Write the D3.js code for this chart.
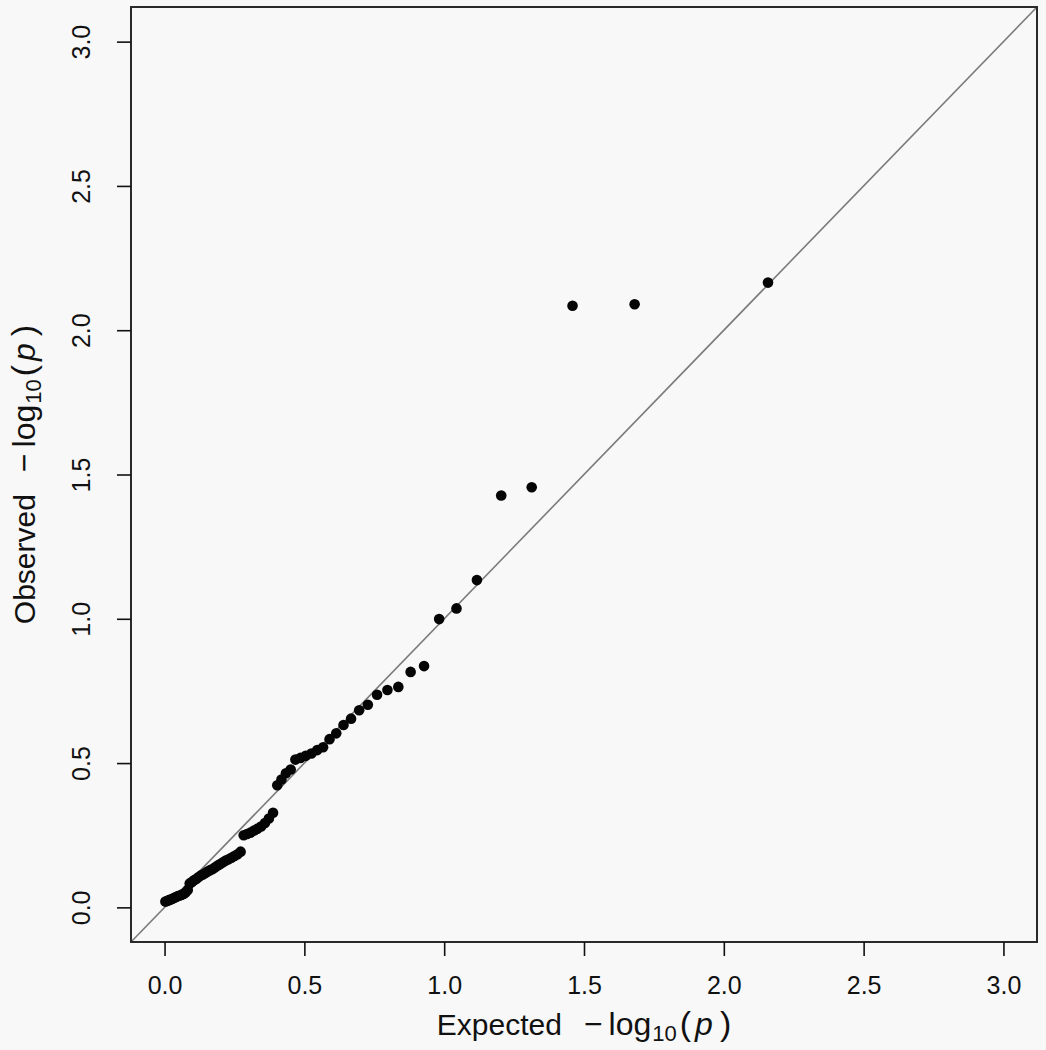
<!DOCTYPE html>
<html>
<head>
<meta charset="utf-8">
<script src="https://cdn.jsdelivr.net/npm/d3@7"></script>
<style>
  html, body { margin: 0; padding: 0; background: #f8f8f8; }
  svg { display: block; }
</style>
</head>
<body>
<svg id="chart" width="1046" height="1050"></svg>
<script>
const expected = [
  2.158, 1.681, 1.459, 1.313, 1.204, 1.117, 1.044, 0.982, 0.928, 0.880,
  0.836, 0.797, 0.760, 0.727, 0.696, 0.667, 0.640, 0.614, 0.590, 0.567,
  0.546, 0.525, 0.505, 0.486, 0.468, 0.451, 0.434, 0.418, 0.403, 0.388,
  0.373, 0.359, 0.345, 0.332, 0.320, 0.307, 0.295, 0.283, 0.272, 0.261,
  0.250, 0.239, 0.229, 0.219, 0.209, 0.199, 0.190, 0.181, 0.172, 0.163,
  0.154, 0.146, 0.137, 0.129, 0.121, 0.113, 0.105, 0.098, 0.090, 0.083,
  0.076, 0.069, 0.062, 0.055, 0.048, 0.041, 0.035, 0.028, 0.022, 0.015,
  0.009, 0.003
];
// observed -log10(p)
const observed = [
  2.165, 2.090, 2.085, 1.456, 1.427, 1.134, 1.036, 0.999, 0.836, 0.816,
  0.764, 0.753, 0.737, 0.702, 0.683, 0.654, 0.632, 0.603, 0.583, 0.555,
  0.545, 0.533, 0.525, 0.518, 0.512, 0.478, 0.465, 0.443, 0.423, 0.328,
  0.308, 0.292, 0.280, 0.272, 0.266, 0.259, 0.254, 0.250, 0.193, 0.184,
  0.178, 0.172, 0.167, 0.162, 0.156, 0.150, 0.145, 0.139, 0.133, 0.129,
  0.124, 0.119, 0.114, 0.110, 0.104, 0.098, 0.094, 0.088, 0.083, 0.060,
  0.052, 0.047, 0.044, 0.041, 0.039, 0.036, 0.033, 0.030, 0.027, 0.025,
  0.022, 0.020
];
const ticks = [0, 0.5, 1.0, 1.5, 2.0, 2.5, 3.0];
const tickLabels = ["0.0", "0.5", "1.0", "1.5", "2.0", "2.5", "3.0"];

const svg = d3.select("#chart");
const box = { left: 131, right: 1037, top: 7, bottom: 942 };
const lim = [-0.12, 3.12];

const x = d3.scaleLinear().domain(lim).range([box.left, box.right]);
const y = d3.scaleLinear().domain(lim).range([box.bottom, box.top]);

const font = "'Liberation Sans', Arial, Helvetica, sans-serif";
const ink = "#111";

// y = x reference line
svg.append("line")
  .attr("x1", x(lim[0])).attr("y1", y(lim[0]))
  .attr("x2", x(lim[1])).attr("y2", y(lim[1]))
  .attr("stroke", "#7a7a7a")
  .attr("stroke-width", 1.6);

// points
svg.append("g")
  .selectAll("circle")
  .data(expected.map((e, i) => [e, observed[i]]))
  .enter().append("circle")
  .attr("cx", d => x(d[0]))
  .attr("cy", d => y(d[1]))
  .attr("r", 5.3)
  .attr("fill", "#050505");

// box
svg.append("rect")
  .attr("x", box.left).attr("y", box.top)
  .attr("width", box.right - box.left).attr("height", box.bottom - box.top)
  .attr("fill", "none")
  .attr("stroke", "#2a2a2a")
  .attr("stroke-width", 2);

// x axis
const xAxis = svg.append("g")
  .attr("transform", `translate(0,${box.bottom})`)
  .call(d3.axisBottom(x).tickValues(ticks).tickSize(14)
    .tickFormat((d, i) => tickLabels[i]));
xAxis.select(".domain").remove();
xAxis.selectAll(".tick line").attr("stroke", ink).attr("stroke-width", 1.6);
xAxis.selectAll(".tick text")
  .attr("y", 52).attr("dy", 0)
  .attr("fill", ink)
  .style("font-family", font).style("font-size", "25px");

// y axis, labels turned like R does
const yAxis = svg.append("g")
  .attr("transform", `translate(${box.left},0)`)
  .call(d3.axisLeft(y).tickValues(ticks).tickSize(14)
    .tickFormat((d, i) => tickLabels[i]));
yAxis.select(".domain").remove();
yAxis.selectAll(".tick line").attr("stroke", ink).attr("stroke-width", 1.6);
yAxis.selectAll(".tick text")
  .attr("x", 0).attr("y", -41).attr("dy", 0)
  .attr("transform", "rotate(-90)")
  .attr("text-anchor", "middle")
  .attr("fill", ink)
  .style("font-family", font).style("font-size", "25px");

// axis titles: "<word>  -log10(p)", spaced out like plotmath
function title(g, word) {
  const t = g.append("text")
    .attr("text-anchor", "middle")
    .attr("fill", ink)
    .style("font-family", font).style("font-size", "30px");
  t.append("tspan").text(word);
  t.append("tspan").attr("dx", 22).style("font-size", "32px").text("\u2212");
  t.append("tspan").attr("dx", 6).style("font-size", "32px").text("log");
  t.append("tspan").attr("dx", 1).attr("dy", 6).style("font-size", "22px").text("10");
  t.append("tspan").attr("dx", 3).attr("dy", -6).style("font-size", "34px").text("(");
  t.append("tspan").attr("dx", 4).style("font-size", "32px").style("font-style", "italic").text("p");
  t.append("tspan").attr("dx", 7).style("font-size", "34px").text(")");
}

title(svg.append("g").attr("transform", `translate(${(box.left + box.right) / 2},1035)`), "Expected");
title(svg.append("g").attr("transform", `translate(35,${(box.top + box.bottom) / 2}) rotate(-90)`), "Observed");
</script>
</body>
</html>
